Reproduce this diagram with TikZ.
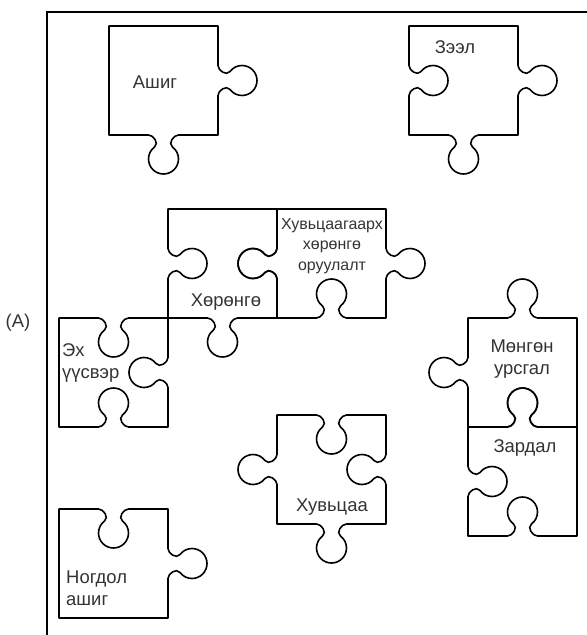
\documentclass[tikz,border=0pt]{standalone}
\usepackage{fontspec}
\setmainfont{Liberation Sans}
% #1,#2 = centre of the edge, #3,#4 = unit along the traversal, #5,#6 = unit of the bulge
\newcommand\tab[6]{%
 -- ({#1+(#3)*(-15)},{#2+(#4)*(-15)})
 .. controls ({#1+(#3)*(-10)},{#2+(#4)*(-10)}) and ({#1+(#3)*(-4.2)+(#5)*8.4},{#2+(#4)*(-4.2)+(#6)*8.4}) .. ({#1+(#3)*(-9)+(#5)*12},{#2+(#4)*(-9)+(#6)*12})
 .. controls ({#1+(#3)*(-12.78)+(#5)*14.83},{#2+(#4)*(-12.78)+(#6)*14.83}) and ({#1+(#3)*(-15)+(#5)*19.28},{#2+(#4)*(-15)+(#6)*19.28}) .. ({#1+(#3)*(-15)+(#5)*24},{#2+(#4)*(-15)+(#6)*24})
 .. controls ({#1+(#3)*(-15)+(#5)*32.28},{#2+(#4)*(-15)+(#6)*32.28}) and ({#1+(#3)*(-8.28)+(#5)*39},{#2+(#4)*(-8.28)+(#6)*39}) .. ({#1+(#5)*39},{#2+(#6)*39})
 .. controls ({#1+(#3)*(8.28)+(#5)*39},{#2+(#4)*(8.28)+(#6)*39}) and ({#1+(#3)*(15)+(#5)*32.28},{#2+(#4)*(15)+(#6)*32.28}) .. ({#1+(#3)*(15)+(#5)*24},{#2+(#4)*(15)+(#6)*24})
 .. controls ({#1+(#3)*(15)+(#5)*19.28},{#2+(#4)*(15)+(#6)*19.28}) and ({#1+(#3)*(12.78)+(#5)*14.83},{#2+(#4)*(12.78)+(#6)*14.83}) .. ({#1+(#3)*(9)+(#5)*12},{#2+(#4)*(9)+(#6)*12})
 .. controls ({#1+(#3)*(4.2)+(#5)*8.4},{#2+(#4)*(4.2)+(#6)*8.4}) and ({#1+(#3)*(10)},{#2+(#4)*(10)}) .. ({#1+(#3)*(15)},{#2+(#4)*(15)})
}
\begin{document}
\begin{tikzpicture}[x=1bp,y=-1bp,
  piece/.style={line width=1.6bp, line join=round},
  frameline/.style={line width=2.2bp},
  lbl/.style={font=\fontsize{18.5}{22}\selectfont, text=black!80, inner sep=0pt, align=center},
  smalllbl/.style={lbl, font=\fontsize{16}{20.5}\selectfont}]
\useasboundingbox (0,0) rectangle (587,635);
% frame
\draw[frameline] (47,635) -- (47,12) -- (587,12);
% Ашиг
\draw[piece] (109,26) -- (218,26) \tab{218}{80.5}{0}{1}{1}{0} -- (218,135) \tab{163.5}{135}{-1}{0}{0}{1} -- (109,135) -- cycle;
% Зээл
\draw[piece] (409,26) -- (518,26) \tab{518}{80.5}{0}{1}{1}{0} -- (518,135) \tab{463.5}{135}{-1}{0}{0}{1} -- (409,135) \tab{409}{80.5}{0}{-1}{1}{0} -- cycle;
% Хөрөнгө
\draw[piece] (168,209) -- (277,209) \tab{277}{263.5}{0}{1}{-1}{0} -- (277,318) \tab{222.5}{318}{-1}{0}{0}{1} -- (168,318) \tab{168}{263.5}{0}{-1}{1}{0} -- cycle;
% Хувьцаагаарх хөрөнгө оруулалт
\draw[piece] (277,209) -- (386,209) \tab{386}{263.5}{0}{1}{1}{0} -- (386,318) \tab{331.5}{318}{-1}{0}{0}{-1} -- (277,318) \tab{277}{263.5}{0}{-1}{-1}{0} -- cycle;
% Эх үүсвэр
\draw[piece] (59,318) \tab{113.5}{318}{1}{0}{0}{1} -- (168,318) \tab{168}{372.5}{0}{1}{-1}{0} -- (168,427) \tab{113.5}{427}{-1}{0}{0}{-1} -- (59,427) -- cycle;
% Мөнгөн урсгал
\draw[piece] (468,318) \tab{522.5}{318}{1}{0}{0}{-1} -- (577,318) -- (577,427) \tab{522.5}{427}{-1}{0}{0}{-1} -- (468,427) \tab{468}{372.5}{0}{-1}{-1}{0} -- cycle;
% Зардал
\draw[piece] (468,427) \tab{522.5}{427}{1}{0}{0}{-1} -- (577,427) -- (577,536) \tab{522.5}{536}{-1}{0}{0}{-1} -- (468,536) \tab{468}{481.5}{0}{-1}{1}{0} -- cycle;
% Хувьцаа
\draw[piece] (277,415) \tab{331.5}{415}{1}{0}{0}{1} -- (386,415) \tab{386}{469.5}{0}{1}{-1}{0} -- (386,524) \tab{331.5}{524}{-1}{0}{0}{1} -- (277,524) \tab{277}{469.5}{0}{-1}{-1}{0} -- cycle;
% Ногдол ашиг
\draw[piece] (59,509) \tab{113.5}{509}{1}{0}{0}{1} -- (168,509) \tab{168}{563.5}{0}{1}{1}{0} -- (168,618) -- (59,618) -- cycle;
% labels
\node[lbl] (ashig) at (155,82) {Ашиг};
\node[lbl] (zeel) at (455,47) {Зээл};
\node[lbl] (khorongo) at (226,302) {Хөрөнгө};
\node[smalllbl] (khuvtsaagaarkh) at (332,246) {Хувьцаагаарх\\хөрөнгө\\оруулалт};
\node[lbl, anchor=west, align=left] (ekh) at (62,363) {Эх\\үүсвэр};
\node[lbl] (mongon) at (522,359) {Мөнгөн\\урсгал};
\node[lbl] (zardal) at (525,448) {Зардал};
\node[lbl] (khuvtsaa) at (332,507) {Хувьцаа};
\node[lbl, anchor=west, align=left] (nogdol) at (66,588) {Ногдол\\ашиг};
\node[lbl] (A) at (18,323) {(A)};
\end{tikzpicture}
\end{document}
